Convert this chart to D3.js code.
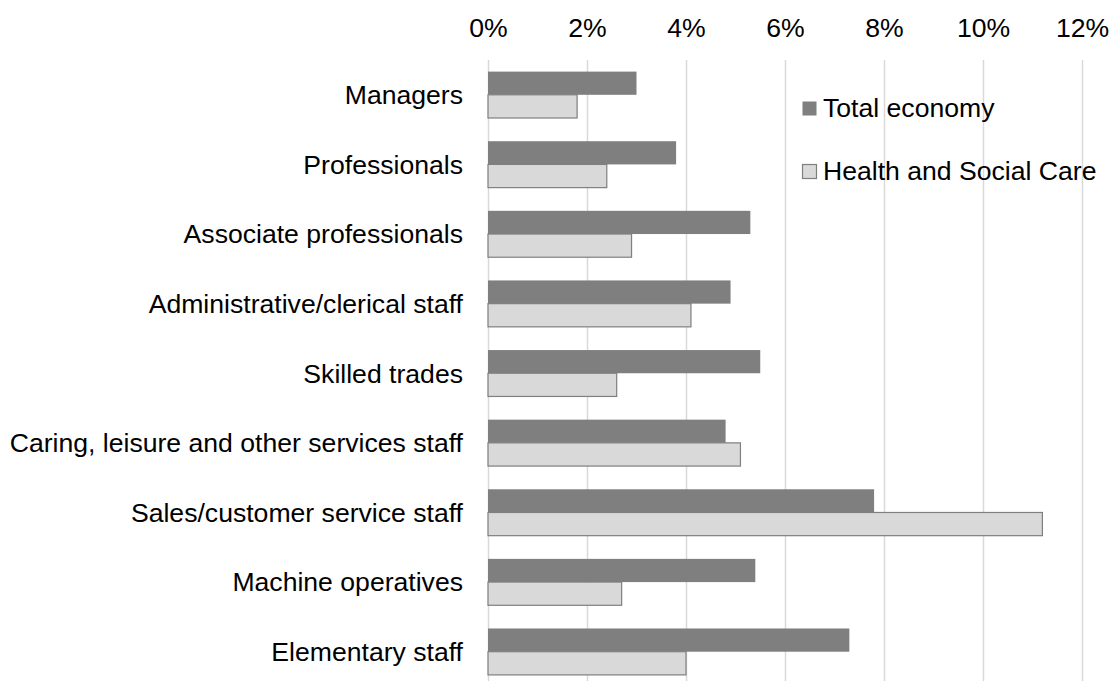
<!DOCTYPE html>
<html>
<head>
<meta charset="utf-8">
<script src="https://cdn.jsdelivr.net/npm/d3@7"></script>
<style>
  body { margin: 0; background: #fff; }
  text { font-family: "Liberation Sans", Arial, sans-serif; }
</style>
</head>
<body>
<svg id="chart"></svg>
<script>
const width = 1110;
const height = 681;

// data (share of staff, %)
const categories = [
    'Managers',
    'Professionals',
    'Associate professionals',
    'Administrative/clerical staff',
    'Skilled trades',
    'Caring, leisure and other services staff',
    'Sales/customer service staff',
    'Machine operatives',
    'Elementary staff'
];
const seriesNames = ['Total economy', 'Health and Social Care'];
const totalEconomy = [3.0, 3.8, 5.3, 4.9, 5.5, 4.8, 7.8, 5.4, 7.3];
const healthSocialCare = [1.8, 2.4, 2.9, 4.1, 2.6, 5.1, 11.2, 2.7, 4.0];
const tickValues = [0, 2, 4, 6, 8, 10, 12];

const fontSize = 26.6;
const seriesFill = { 'Total economy': '#7f7f7f', 'Health and Social Care': '#d9d9d9' };
const seriesStroke = { 'Total economy': 'none', 'Health and Social Care': '#7f7f7f' };

const rows = categories.map((c, i) => ({
    category: c,
    values: [
        { series: seriesNames[0], value: totalEconomy[i] },
        { series: seriesNames[1], value: healthSocialCare[i] }
    ]
}));

const svg = d3.select('#chart')
    .attr('width', width)
    .attr('height', height);

const x = d3.scaleLinear()
    .domain([0, 12])
    .range([488, 1082]);

const y = d3.scaleBand()
    .domain(categories)
    .range([60, 686.5])
    .paddingInner(1 / 3)
    .paddingOuter(1 / 6);

const ySub = d3.scaleBand()
    .domain(seriesNames)
    .range([0, y.bandwidth()]);

// gridlines
svg.append('g')
    .selectAll('line')
    .data(tickValues)
    .enter().append('line')
    .attr('x1', d => Math.round(x(d)) + 0.5)
    .attr('x2', d => Math.round(x(d)) + 0.5)
    .attr('y1', 60)
    .attr('y2', height)
    .attr('stroke', '#d9d9d9')
    .attr('stroke-width', 1.5);

// top axis labels
const xAxis = d3.axisTop(x)
    .tickValues(tickValues)
    .tickSize(0)
    .tickPadding(0)
    .tickFormat(d => d + '%');

svg.append('g')
    .attr('transform', 'translate(0, 37)')
    .call(xAxis)
    .call(g => g.select('.domain').remove())
    .selectAll('text')
    .attr('font-size', fontSize)
    .attr('font-family', '"Liberation Sans", Arial, sans-serif')
    .attr('fill', '#000')
    .attr('dy', 0);

// category labels
svg.append('g')
    .selectAll('text')
    .data(categories)
    .enter().append('text')
    .attr('x', 463)
    .attr('y', d => y(d) + y.bandwidth() / 2)
    .attr('dy', '0.35em')
    .attr('text-anchor', 'end')
    .attr('font-size', fontSize)
    .attr('fill', '#000')
    .text(d => d);

// bars
const groups = svg.append('g')
    .selectAll('g')
    .data(rows)
    .enter().append('g')
    .attr('transform', d => `translate(0, ${y(d.category)})`);

groups.selectAll('rect')
    .data(d => d.values)
    .enter().append('rect')
    .attr('x', x(0))
    .attr('y', d => ySub(d.series))
    .attr('width', d => x(d.value) - x(0))
    .attr('height', ySub.bandwidth())
    .attr('fill', d => seriesFill[d.series])
    .attr('stroke', d => seriesStroke[d.series])
    .attr('stroke-width', 1.2);

// legend
const legend = svg.append('g')
    .attr('transform', 'translate(802, 101)');

const legendItem = legend.selectAll('g')
    .data(seriesNames)
    .enter().append('g')
    .attr('transform', (d, i) => `translate(0, ${i * 63})`);

legendItem.append('rect')
    .attr('x', 0.5)
    .attr('y', 0.5)
    .attr('width', 14)
    .attr('height', 14)
    .attr('fill', d => seriesFill[d])
    .attr('stroke', d => seriesStroke[d])
    .attr('stroke-width', 1.2);

legendItem.append('text')
    .attr('x', 21)
    .attr('y', 16)
    .attr('font-size', fontSize)
    .attr('fill', '#000')
    .text(d => d);
</script>
</body>
</html>
